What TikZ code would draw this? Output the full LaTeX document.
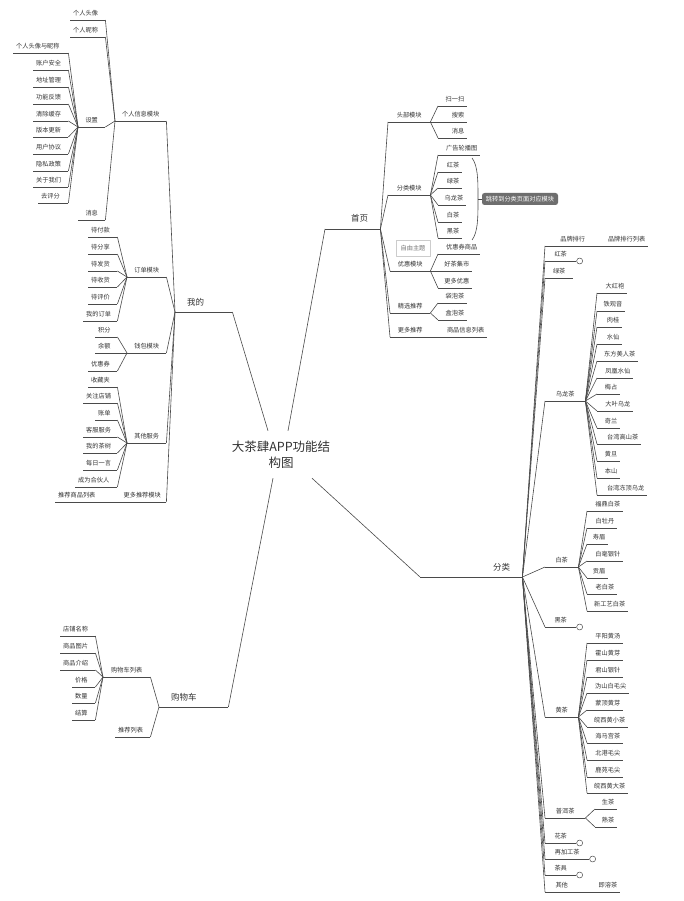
\documentclass[tikz,border=0pt]{standalone}
\usepackage{fontspec}
\setmainfont{Noto Sans CJK SC}
\definecolor{ln}{HTML}{4A4A4A}
\definecolor{txt}{HTML}{333333}
\definecolor{calloutbg}{HTML}{6E6E6E}
\tikzset{
  ul/.style={append after command={(\tikzlastnode.south west) edge[draw=ln, line width=0.6pt] (\tikzlastnode.south east)}},
  tb/.style={ul, anchor=south west, font=\fontsize{6.2}{7}\selectfont, text=txt, inner xsep=3pt, inner ysep=3.3pt, text height=5pt, text depth=1.2pt},
  tw/.style={/utils/exec={\pgfmathsetmacro\twid{#1-6}}, text width=\twid pt},
  tR/.style={tb, tw=#1, align=right},
  tL/.style={tb, tw=#1, align=left},
  tC/.style={tb, tw=#1, align=center},
  mb/.style={ul, anchor=south west, font=\fontsize{8.5}{10}\selectfont, text=txt, inner xsep=12pt, inner ysep=5.3pt, text height=6.5pt, text depth=1.5pt},
  mw/.style={/utils/exec={\pgfmathsetmacro\twid{#1-24}}, text width=\twid pt},
  mR/.style={mb, mw=#1, align=right},
  mL/.style={mb, mw=#1, align=left},
  cn/.style={draw=ln, line width=0.6pt},
  fold/.style={circle, draw=ln, line width=0.5pt, fill=white, minimum size=6pt, inner sep=0pt, anchor=west},
  callout/.style={fill=calloutbg, rounded corners=2.5pt, text=white, font=\fontsize{6.2}{7}\selectfont, minimum width=76pt, minimum height=12pt, inner sep=1pt},
  freetopic/.style={draw=black!20, line width=0.5pt, text=black!55, font=\fontsize{6.2}{7}\selectfont, minimum width=34pt, minimum height=16pt, inner sep=1pt},
}
\begin{document}
\begin{tikzpicture}[x=1pt, y=-1pt, line join=round]
\fill[white] (0,0) rectangle (684,901);
\useasboundingbox (0,0) rectangle (684,901);

% centre
\node[font=\fontsize{12.5}{16}\selectfont, text=txt, align=center, inner sep=0pt, minimum width=92pt, minimum height=47pt] (c) at (281,454.5) {大茶肆APP功能结\\构图};

% main branches
\node[mL=57] (wd) at (175,312) {我的};
\node[mR=55] (sy) at (325,229) {首页};
\node[mR=102] (fl) at (420,577) {分类};
\node[mL=69] (gw) at (159,707) {购物车};
\draw[cn] ([xshift=-13pt]c.north) -- (wd.south east);
\draw[cn] ([xshift=7pt]c.north) -- (sy.south west);
\draw[cn] ([xshift=-8pt]c.south) -- (gw.south east);
\draw[cn] ([xshift=31pt]c.south) -- (fl.south west);

% ---------- 我的 ----------
\node[tC=51] (gr) at (115,121) {个人信息模块};
\node[tC=39] (dd) at (127,277) {订单模块};
\node[tC=39] (qb) at (127,353) {钱包模块};
\node[tC=39] (qtfw) at (127,443) {其他服务};
\node[tC=48] (gd) at (118,502) {更多推荐模块};
\foreach \n in {gr,dd,qb,qtfw,gd} \draw[cn] (wd.south west) -- (\n.south east);

\node[tL=35] (tx) at (70,20) {个人头像};
\node[tL=35] (nc) at (70,37) {个人昵称};
\node[tC=27] (sz) at (78,127) {设置};
\node[tC=27] (xx) at (78,220) {消息};
\foreach \n in {tx,nc,sz,xx} \draw[cn] (gr.south west) -- (\n.south east);

\node[tL=55] (s1) at (13,53) {个人头像与昵称};
\node[tL=35] (s2) at (33,70) {账户安全};
\node[tL=35] (s3) at (33,87) {地址管理};
\node[tL=35] (s4) at (33,104) {功能反馈};
\node[tL=35] (s5) at (33,121) {清除缓存};
\node[tL=35] (s6) at (33,137) {版本更新};
\node[tL=35] (s7) at (33,154) {用户协议};
\node[tL=35] (s8) at (33,171) {隐私政策};
\node[tL=35] (s9) at (33,187) {关于我们};
\node[tL=30] (s10) at (38,203) {去评分};
\foreach \i in {1,...,10} \draw[cn] (sz.south west) -- (s\i.south east);

\node[tL=29] (o1) at (88,237) {待付款};
\node[tL=29] (o2) at (88,254) {待分享};
\node[tL=29] (o3) at (88,271) {待发货};
\node[tL=29] (o4) at (88,287) {待收货};
\node[tL=29] (o5) at (88,304) {待评价};
\node[tL=34] (o6) at (83,321) {我的订单};
\foreach \i in {1,...,6} \draw[cn] (dd.south west) -- (o\i.south east);

\node[tL=22] (w1) at (95,337) {积分};
\node[tL=22] (w2) at (95,353) {余额};
\node[tL=29] (w3) at (88,371) {优惠券};
\foreach \i in {1,2,3} \draw[cn] (qb.south west) -- (w\i.south east);

\node[tL=29] (q1) at (88,387) {收藏夹};
\node[tL=34] (q2) at (83,403) {关注店铺};
\node[tL=22] (q3) at (95,420) {账单};
\node[tL=34] (q4) at (83,437) {客服服务};
\node[tL=34] (q5) at (83,453) {我的茶树};
\node[tL=34] (q6) at (83,470) {每日一言};
\node[tL=42] (q7) at (75,487) {成为合伙人};
\foreach \i in {1,...,7} \draw[cn] (qtfw.south west) -- (q\i.south east);

\node[tL=45] (r1) at (55,502) {推荐商品列表};
\draw[cn] (gd.south west) -- (r1.south east);

% ---------- 购物车 ----------
\node[tC=47] (gl) at (103,677) {购物车列表};
\node[tL=35] (gt) at (115,737) {推荐列表};
\foreach \n in {gl,gt} \draw[cn] (gw.south west) -- (\n.south east);
\node[tL=35] (g1) at (60,636) {店铺名称};
\node[tL=35] (g2) at (60,653) {商品图片};
\node[tL=35] (g3) at (60,670) {商品介绍};
\node[tL=23] (g4) at (72,687) {价格};
\node[tL=23] (g5) at (72,703) {数量};
\node[tL=23] (g6) at (72,720) {结算};
\foreach \i in {1,...,6} \draw[cn] (gl.south west) -- (g\i.south east);

% ---------- 首页 ----------
\node[tC=42] (h1) at (388,122) {头部模块};
\node[tC=42] (h2) at (388,195) {分类模块};
\node[tC=40] (h3) at (390,271) {优惠模块};
\node[tC=40] (h4) at (390,313) {精选推荐};
\node[tC=40] (h5) at (390,337) {更多推荐};
\foreach \i in {1,...,5} \draw[cn] (sy.south east) -- (h\i.south west);

\node[tR=29] (a1) at (438,106) {扫一扫};
\node[tR=29] (a2) at (438,122) {搜索};
\node[tR=29] (a3) at (438,138) {消息};
\foreach \i in {1,2,3} \draw[cn] (h1.south east) -- (a\i.south west);

\node[tR=42] (b1) at (438,155) {广告轮播图};
\node[tR=24] (b2) at (438,172) {红茶};
\node[tR=24] (b3) at (438,188) {绿茶};
\node[tR=28] (b4) at (438,205) {乌龙茶};
\node[tR=24] (b5) at (438,222) {白茶};
\node[tR=24] (b6) at (438,238) {黑茶};
\foreach \i in {1,...,6} \draw[cn] (h2.south east) -- (b\i.south west);

\coordinate (bt) at (472,158);
\coordinate (bm) at (478,199);
\coordinate (bb) at (472,240);
\draw[cn] (bt) .. controls (478,166) and (478,180) .. (bm) .. controls (478,218) and (478,232) .. (bb);
\node[callout] (ct) at (520,199) {跳转到分类页面对应模块};
\draw[cn] (bm) -- (ct.west);

\node[freetopic] (zy) at (413,248) {自由主题};

\node[tR=42] (y1) at (438,254) {优惠券商品};
\node[tR=34] (y2) at (438,271) {好茶集市};
\node[tR=34] (y3) at (438,288) {更多优惠};
\foreach \i in {1,2,3} \draw[cn] (h3.south east) -- (y\i.south west);

\node[tR=29] (j1) at (438,303) {袋泡茶};
\node[tR=29] (j2) at (438,320) {盒泡茶};
\foreach \i in {1,2} \draw[cn] (h4.south east) -- (j\i.south west);

\node[tR=49] (m1) at (438,337) {商品信息列表};
\draw[cn] (h5.south east) -- (m1.south west);

% ---------- 分类 ----------
\node[tC=55] (k1) at (545,246) {品牌排行};
\node[tC=31] (k2) at (545,261) {红茶};
\node[tC=28] (k3) at (545,278) {绿茶};
\node[tC=40] (k4) at (545,401) {乌龙茶};
\node[tC=33] (k5) at (545,567) {白茶};
\node[tC=31] (k6) at (545,627) {黑茶};
\node[tC=33] (k7) at (545,717) {黄茶};
\node[tC=40] (k8) at (545,818) {普洱茶};
\node[tC=31] (k9) at (545,843) {花茶};
\node[tC=44] (k10) at (545,859) {再加工茶};
\node[tC=31] (k11) at (545,875) {茶具};
\node[tC=33] (k12) at (545,892) {其他};
\foreach \i in {1,...,12} \draw[cn] (fl.south east) -- (k\i.south west);

\foreach \i in {2,6,9,10,11} \node[fold] (k\i f) at (k\i.south east) {};

\node[tR=45] (k1a) at (603,246) {品牌排行列表};
\draw[cn] (k1.south east) -- (k1a.south west);
\node[tR=30] (k12a) at (590,892) {即溶茶};
\draw[cn] (k12.south east) -- (k12a.south west);

\node[tR=30] (u1) at (597,293) {大红袍};
\node[tR=28] (u2) at (597,311) {铁观音};
\node[tR=25] (u3) at (597,327) {肉桂};
\node[tR=25] (u4) at (597,344) {水仙};
\node[tR=41] (u5) at (597,361) {东方美人茶};
\node[tR=36] (u6) at (597,378) {凤凰水仙};
\node[tR=23] (u7) at (597,394) {梅占};
\node[tR=36] (u8) at (597,411) {大叶乌龙};
\node[tR=23] (u9) at (597,428) {奇兰};
\node[tR=44] (u10) at (597,444) {台湾高山茶};
\node[tR=23] (u11) at (597,461) {黄旦};
\node[tR=23] (u12) at (597,478) {本山};
\node[tR=50] (u13) at (597,495) {台湾冻顶乌龙};
\foreach \i in {1,...,13} \draw[cn] (k4.south east) -- (u\i.south west);

\node[tR=36] (x1) at (587,511) {福鼎白茶};
\node[tR=30] (x2) at (587,528) {白牡丹};
\node[tR=21] (x3) at (587,544) {寿眉};
\node[tR=36] (x4) at (587,561) {白毫银针};
\node[tR=21] (x5) at (587,578) {贡眉};
\node[tR=30] (x6) at (587,594) {老白茶};
\node[tR=41] (x7) at (587,611) {新工艺白茶};
\foreach \i in {1,...,7} \draw[cn] (k5.south east) -- (x\i.south west);

\node[tR=36] (z1) at (587,643) {平阳黄汤};
\node[tR=36] (z2) at (587,660) {霍山黄芽};
\node[tR=36] (z3) at (587,677) {君山银针};
\node[tR=42] (z4) at (587,693) {沩山白毛尖};
\node[tR=36] (z5) at (587,710) {蒙顶黄芽};
\node[tR=41] (z6) at (587,727) {皖西黄小茶};
\node[tR=36] (z7) at (587,743) {海马宫茶};
\node[tR=36] (z8) at (587,760) {北港毛尖};
\node[tR=36] (z9) at (587,777) {鹿苑毛尖};
\node[tR=41] (z10) at (587,793) {皖西黄大茶};
\foreach \i in {1,...,10} \draw[cn] (k7.south east) -- (z\i.south west);

\node[tR=22] (p1) at (595,809) {生茶};
\node[tR=22] (p2) at (595,827) {熟茶};
\foreach \i in {1,2} \draw[cn] (k8.south east) -- (p\i.south west);
\end{tikzpicture}
\end{document}
